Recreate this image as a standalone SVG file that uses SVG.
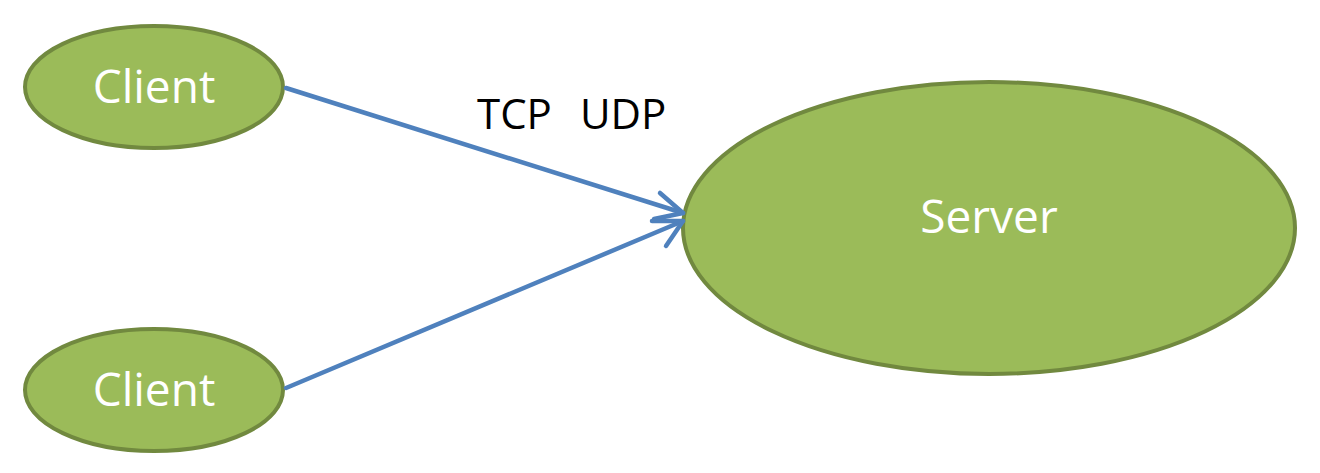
<svg xmlns="http://www.w3.org/2000/svg" width="1320" height="473" viewBox="0 0 1320 473">
<style>
.node ellipse{fill:#9BBB59;stroke:#71893F;stroke-width:4}
.node text{font-family:"Open Sans","Liberation Sans",sans-serif;fill:#FFFFFF;text-anchor:middle}
.conn line,.conn polyline{stroke:#4F81BD;stroke-width:4.5;fill:none;stroke-linecap:round;stroke-linejoin:round}
.lbl{font-family:"Open Sans","Liberation Sans",sans-serif;font-size:42px;fill:#000000;white-space:pre}
</style>
<rect width="1320" height="473" fill="#FFFFFF"/>
<g id="client1" class="node">
<ellipse cx="154" cy="87" rx="129" ry="61"/>
<text x="154" y="103" font-size="46">Client</text>
</g>
<g id="client2" class="node">
<ellipse cx="154" cy="390" rx="129" ry="61"/>
<text x="154" y="406" font-size="46">Client</text>
</g>
<g id="server" class="node">
<ellipse cx="989" cy="228" rx="306" ry="146"/>
<text x="989" y="233" font-size="46">Server</text>
</g>
<g id="connectors" class="conn">
<line x1="286" y1="88" x2="683" y2="213"/>
<polyline points="660,193 683,213 654,219"/>
<line x1="286" y1="388" x2="683" y2="221"/>
<polyline points="652,221 683,221 666,246"/>
</g>
<text class="lbl" x="477" y="129">TCP<tspan x="580">UDP</tspan></text>
</svg>
